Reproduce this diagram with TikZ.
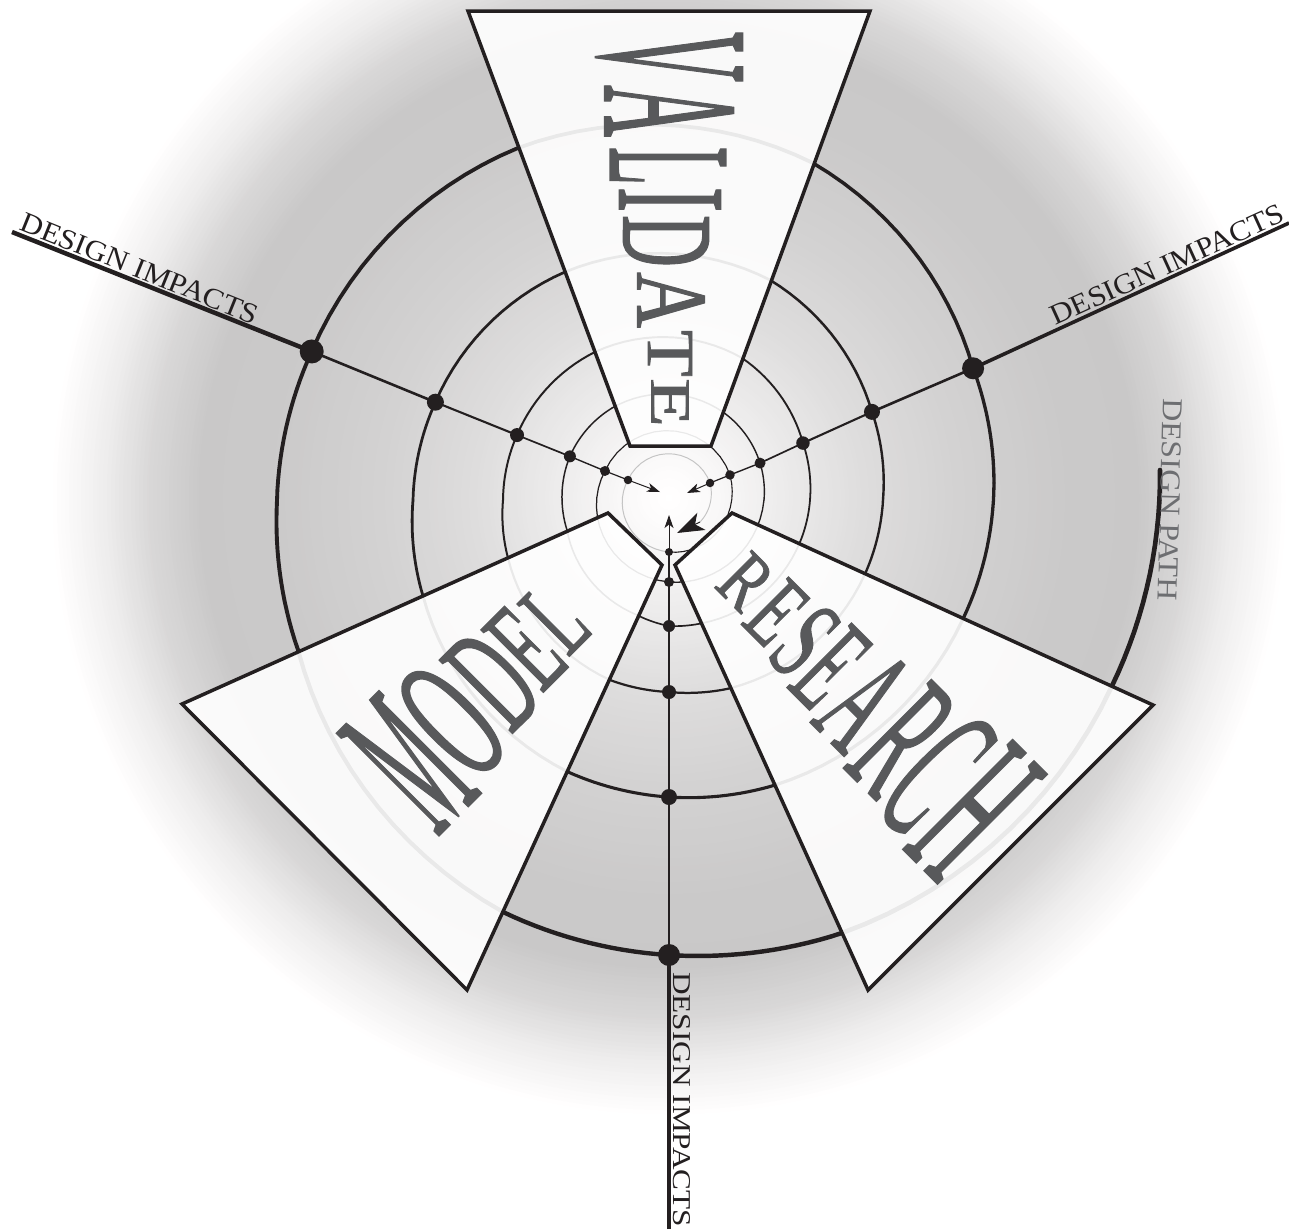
\documentclass[tikz,border=0pt]{standalone}
\usepackage{fontspec}
\setmainfont{Liberation Serif}
\newfontfamily\bigfont[FakeBold=1.2]{Liberation Serif}
\usetikzlibrary{arrows.meta,calc}
\definecolor{ink}{HTML}{231F20}
\definecolor{txt}{HTML}{58595B}
\definecolor{ptxt}{HTML}{6D6E71}
\definecolor{inner}{HTML}{C4C4C4}
\newcommand{\glyph}[3]{\resizebox{#2pt}{#3pt}{#1}}
\tikzset{
  spot/.style={circle, fill=ink, draw=none, inner sep=0pt, minimum size=#1},
  trap/.style={draw=ink, line width=3.5pt, fill=white, fill opacity=0.9, line join=miter},
  ltr/.style={inner sep=0pt, text=txt, font=\bigfont},
  lbl/.style={inner sep=0pt, text=ink},
  spk/.style={draw=ink, line width=#1},
  tipS/.style={-{Stealth[length=13pt, width=9pt, inset=3.5pt]}},
}
\begin{document}
\begin{tikzpicture}[x=1pt,y=-1pt]
\useasboundingbox (0,0) rectangle (1289,1229);
\fill[white] (0,0) rectangle (1289,1229);
% radial background shading built from rings
\begin{scope}
\clip (0,0) rectangle (1289,1229);
\foreach \ra/\ga/\rb/\gb in {620/1/570/0.935, 570/0.935/520/0.845, 520/0.845/470/0.785, 470/0.785/400/0.79,
  400/0.79/300/0.82, 300/0.82/200/0.865, 200/0.865/100/0.935, 100/0.935/40/0.98, 40/0.98/4/1}{
  \pgfmathsetmacro{\rs}{\ra-4}
  \foreach \q in {\ra,\rs,...,\rb}{
    \pgfmathsetmacro{\g}{\ga+(\gb-\ga)*(\ra-\q)/(\ra-\rb)}
    \pgfmathsetmacro{\gr}{min(1,\g+0.004)}
    \definecolor{ringc}{rgb}{\gr,\g,\g}
    \fill[ringc] (669,498) circle (\q);
  }
}
\end{scope}
% spiral design path
\begin{scope}[shift={(669,498)}, line cap=round]
\foreach \p/\r/\c [remember=\p as \pp (initially -3.26), remember=\r as \rr (initially 491.8)] in {
 23.0/481.2/ink, 68.3/468.1/ink, 90/457/ink, 111.85/446/ink, 157.7/400.9/ink, 179.7/392/ink, 202.3/386.2/ink,
 246.67/381.2/ink, 293.26/364.6/ink, 336.9/330.6/ink, 357.36/325.3/ink, 382.37/317.9/ink, 429.73/306/ink, 450/299/ink,
 470.23/292/ink, 518.28/264.8/ink, 539.55/256/ink, 562.3/252.5/ink, 605.29/248.8/ink, 654.86/240.3/ink, 697.0/220.5/ink,
 720.54/214/ink, 741.2/210.2/ink, 791.93/199.9/ink, 810/194/ink, 827.96/191.3/ink, 879.56/171.8/ink, 899.3/166/ink, 922.5/164.5/ink,
 963.12/163.7/ink, 1017.54/157.9/ink, 1057.7/144.8/ink, 1080.81/141/ink, 1098.57/138.2/ink, 1154.78/129.5/ink, 1170/128/ink,
 1185.3/121.3/ink, 1242.58/106.9/ink, 1258.93/107/ink, 1282.8/107.5/ink, 1317.65/106.5/ink, 1382.13/101.5/ink, 1419.0/97.5/ink,
 1441.2/95/ink, 1530/84/ink, 1642.9/69.5/ink, 1779.3/65.2/ink, 1890/54/ink, 2003.7/44.8/inner, 2139.9/43.7/inner, 2197.7/39.2/inner}
{
 \pgfmathsetmacro{\w}{0.6+(\rr+\r)/240}
 \draw[draw=\c, line width=\w pt] plot[domain=\pp:\p, samples=16, variable=\t] (\t:{\rr*exp(ln(\r/\rr)*(\t-\pp)/(\p-\pp))});
}
% dots on the spokes
\node[spot=22pt] (B1) at (90:457) {};
\node[spot=24pt] (L1) at (202.3:386.2) {};
\node[spot=22pt] (R1) at (336.9:330.6) {};
\node[spot=16pt] (B2) at (90:299) {};
\node[spot=17pt] (L2) at (202.3:252.5) {};
\node[spot=16pt] (R2) at (337.0:220.5) {};
\node[spot=14pt] (B3) at (90:194) {};
\node[spot=14pt] (L3) at (202.5:164.5) {};
\node[spot=13.5pt] (R3) at (337.7:144.8) {};
\node[spot=12pt] (B4) at (90:128) {};
\node[spot=12pt] (L4) at (202.8:107.5) {};
\node[spot=11pt] (R4) at (339.0:97.5) {};
\node[spot=10pt] (B5) at (90:84) {};
\node[spot=10pt] (L5) at (202.9:69.5) {};
\node[spot=9.5pt] (R5) at (339.3:65.2) {};
\node[spot=8pt] (B6) at (90:54) {};
\node[spot=8.5pt] (L6) at (203.7:44.8) {};
\node[spot=8.5pt] (R6) at (339.9:43.7) {};
\end{scope}
\coordinate (eL) at (12,232);
\coordinate (eR) at (1289,223);
\coordinate (eB) at (669,1229);
\coordinate (aL) at (660,492);
\coordinate (aR) at (687,493);
\coordinate (aB) at (669,515);
\coordinate (pB) at (700,522);
\coordinate (pT) at (677,533);
% spokes
\draw[spk=4.5pt] (eL) -- (L1.center);
\draw[spk=3.6pt] (eR) -- (R1.center);
\draw[spk=4.5pt] (eB) -- (B1.center);
\foreach \s in {L,R,B}{
  \draw[spk=2.6pt] (\s1.center) -- (\s2.center);
  \draw[spk=2.1pt] (\s2.center) -- (\s3.center);
  \draw[spk=1.7pt] (\s3.center) -- (\s4.center);
  \draw[spk=1.4pt] (\s4.center) -- (\s5.center);
  \draw[spk=1.2pt] (\s5.center) -- (\s6.center);
}
\draw[spk=1pt, tipS] (L6.center) -- (aL);
\draw[spk=1pt, tipS] (R6.center) -- (aR);
\draw[spk=1pt, tipS] (B6.center) -- (aB);
\draw[spk=1pt, -{Stealth[length=27pt, width=19pt, inset=7pt]}] (pB) -- (pT);
% trapezoids
\draw[trap] (468,11) -- (870,11) -- (711,446) -- (630,446) -- cycle;
\draw[trap] (608,513) -- (182,704) -- (467,990) -- (662,565) -- cycle;
\draw[trap] (732,513) -- (1153,705) -- (868,990) -- (675,565) -- cycle;
% VALIDATE
\node[ltr, rotate=-90] (v1) at (669,57) {\glyph{V}{50}{143}};
\node[ltr, rotate=-90] (v2) at (669,111) {\glyph{A}{52}{128}};
\node[ltr, rotate=-90] (v3) at (668,166) {\glyph{L}{38}{115}};
\node[ltr, rotate=-90] (v4) at (670,199.5) {\glyph{I}{25}{101}};
\node[ltr, rotate=-90] (v5) at (666,241) {\glyph{D}{52}{85}};
\node[ltr, rotate=-90] (v6) at (671,300) {\glyph{A}{56}{67}};
\node[ltr, rotate=-90] (v7) at (670,353.5) {\glyph{T}{47}{44}};
\node[ltr, rotate=-90] (v8) at (670,402.5) {\glyph{E}{49}{37}};
% MODEL
\coordinate (MW) at (324.5,847);
\coordinate (MN) at (635,539);
\node[ltr, rotate=45] (m1) at ($(MW)!119pt!(MN)$) {\glyph{M}{65}{144}};
\node[ltr, rotate=45] (m2) at ($(MW)!179pt!(MN)$) {\glyph{O}{58}{123}};
\node[ltr, rotate=45] (m3) at ($(MW)!237pt!(MN)$) {\glyph{D}{52}{103}};
\node[ltr, rotate=45] (m4) at ($(MW)!283pt!(MN)$) {\glyph{E}{42}{88}};
\node[ltr, rotate=45] (m5) at ($(MW)!325pt!(MN)$) {\glyph{L}{38}{74}};
% RESEARCH
\coordinate (RN) at (703.5,539);
\coordinate (RW) at (1010.5,847.5);
\node[ltr, rotate=-45] (r1) at ($(RN)!60pt!(RW)$) {\glyph{R}{40}{53}};
\node[ltr, rotate=-45] (r2) at ($(RN)!104pt!(RW)$) {\glyph{E}{38}{67}};
\node[ltr, rotate=-45] (r3) at ($(RN)!144pt!(RW)$) {\glyph{S}{36}{80}};
\node[ltr, rotate=-45] (r4) at ($(RN)!181pt!(RW)$) {\glyph{E}{38}{91}};
\node[ltr, rotate=-45] (r5) at ($(RN)!229pt!(RW)$) {\glyph{A}{50}{107}};
\node[ltr, rotate=-45] (r6) at ($(RN)!283pt!(RW)$) {\glyph{R}{50}{124}};
\node[ltr, rotate=-45] (r7) at ($(RN)!331pt!(RW)$) {\glyph{C}{48}{139}};
\node[ltr, rotate=-45] (r8) at ($(RN)!385pt!(RW)$) {\glyph{H}{54}{154}};
% labels
\node[lbl, rotate=-22, anchor=south west] (tUL) at (18,230) {\glyph{DESIGN IMPACTS}{254}{19}};
\node[lbl, rotate=24.5, anchor=south east] (tUR) at (1287,221) {\glyph{DESIGN IMPACTS}{254}{19}};
\node[lbl, rotate=-90, anchor=south west] (tB) at (673,972) {\glyph{DESIGN IMPACTS}{255}{17}};
\node[inner sep=0pt, text=ptxt, rotate=-91.5, anchor=south west] (tP) at (1163,398) {\glyph{DESIGN PATH}{202}{19}};
\end{tikzpicture}
\end{document}
